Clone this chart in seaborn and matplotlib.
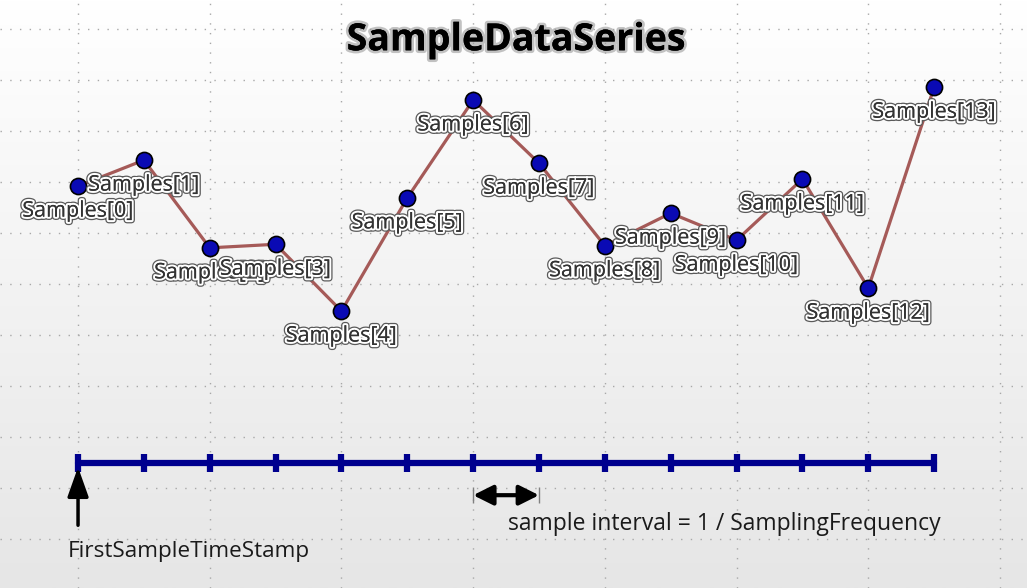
import numpy as np
import matplotlib
matplotlib.use("Agg")
import matplotlib.pyplot as plt
import matplotlib.patheffects as pe
from matplotlib.colors import LinearSegmentedColormap
import seaborn as sns

# sample series (values in grid units)
sample_index = list(range(14))
sample_values = [6.92, 7.43, 5.71, 5.78, 4.47, 6.69, 8.61, 7.37, 5.75, 6.39, 5.86, 7.06, 4.92, 8.86]
sample_labels = [f"Samples[{i}]" for i in sample_index]

timeline_level = 1.49
title_text = "SampleDataSeries"
first_stamp_text = "FirstSampleTimeStamp"
interval_text = "sample interval = 1 / SamplingFrequency"

sns.set_style("white")
plt.rcParams['font.family'] = ['Open Sans', 'DejaVu Sans']

fig = plt.figure(figsize=(10.27, 5.88), dpi=100)
ax = fig.add_axes([0, 0, 1, 1])
xlim = (-1.185, 14.41)
ylim = (-0.96, 10.57)

# gradient background, white at the top to light gray at the bottom
bg = LinearSegmentedColormap.from_list("bg", ["#e6e6e6", "#ffffff"])
grad = np.linspace(1, 0, 256).reshape(-1, 1)
ax.imshow(grad, extent=[xlim[0], xlim[1], ylim[0], ylim[1]], aspect='auto', cmap=bg, zorder=0)
ax.set_xlim(*xlim)
ax.set_ylim(*ylim)

# dotted grid
ax.set_xticks(np.arange(0, 15, 2))
ax.set_yticks(np.arange(0, 11))
ax.grid(True, color='#a8a8a8', linestyle=(0, (1, 6)), linewidth=1.0, zorder=1)
ax.tick_params(length=0, labelbottom=False, labelleft=False)
for s in ax.spines.values():
    s.set_visible(False)

# sample series
sns.lineplot(x=sample_index, y=sample_values, color='#a55a58', linewidth=2.3, ax=ax, zorder=3)
sns.scatterplot(x=sample_index, y=sample_values, s=135, color='#0a0ab4', edgecolor='black',
                linewidth=1.2, ax=ax, zorder=4)

halo = [pe.withStroke(linewidth=4.8, foreground='#5a5a5a'),
        pe.withStroke(linewidth=3.0, foreground='white'), pe.Normal()]
for x, y, lab in zip(sample_index, sample_values, sample_labels):
    ax.annotate(lab, (x, y), xytext=(0, -25), textcoords='offset pixels', ha='center', va='center',
                fontsize=15.5, color='#333333', path_effects=halo, zorder=5)

# title
ax.text(6.65, 9.78, title_text, ha='center', va='center', fontsize=27, fontweight='bold', color='black',
        path_effects=[pe.withStroke(linewidth=4, foreground='#9a9a9a', alpha=0.6), pe.Normal()], zorder=5)

# timeline of sample stamps
ax.plot([sample_index[0], sample_index[-1]], [timeline_level] * 2, color='#00008e', linewidth=4.5, zorder=3)
ax.plot(sample_index, [timeline_level] * len(sample_index), linestyle='none', marker='|', ms=12.5, mew=4.5,
        color='#00008e', zorder=3)

# first time stamp arrow
ax.annotate('', xy=(0, 1.41), xytext=(0, 0.27),
            arrowprops=dict(arrowstyle='-|>,head_length=0.9,head_width=0.32', color='black', lw=2.5,
                            mutation_scale=20, shrinkA=0, shrinkB=0), zorder=4)
ax.text(-0.15, -0.235, first_stamp_text, ha='left', va='center', fontsize=16.2, color='#1a1a1a')

# sample interval arrow
ax.vlines([6, 7], 0.7, 1.02, color='#808080', linewidth=1, zorder=3)
ax.annotate('', xy=(7, 0.86), xytext=(6, 0.86),
            arrowprops=dict(arrowstyle='<|-|>,head_length=0.6,head_width=0.3', color='black', lw=3,
                            mutation_scale=20, shrinkA=0, shrinkB=0), zorder=4)
ax.text(6.53, 0.29, interval_text, ha='left', va='center', fontsize=16.5, color='#1a1a1a')

fig.savefig("out.png", dpi=100)
